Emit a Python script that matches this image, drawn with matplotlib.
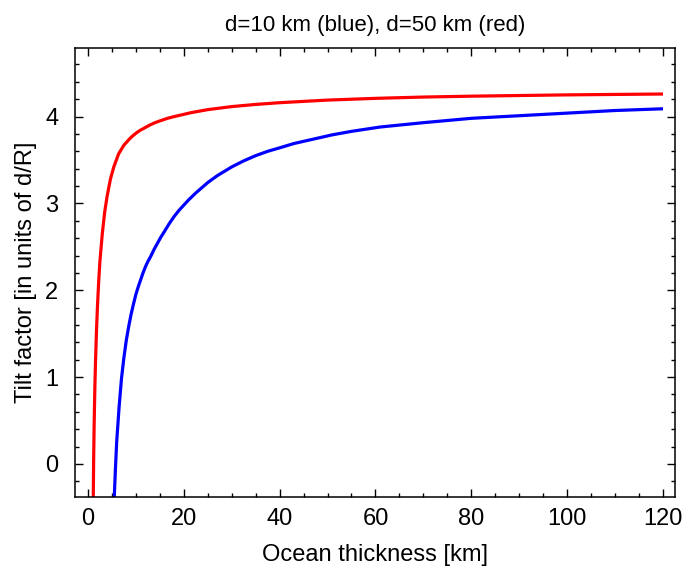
import matplotlib
matplotlib.use('Agg')
import matplotlib.pyplot as plt
from matplotlib.ticker import MultipleLocator

plt.rcParams['font.family'] = ['Liberation Sans', 'DejaVu Sans']

# Tilt factor vs ocean thickness, d = 10 km
x_blue = [5.5, 5.75, 6.0, 6.5, 7.0, 7.5, 8.0, 8.5, 9.0, 9.5, 10.0, 10.5, 11.0,
          11.5, 12.0, 12.5, 13.1, 13.8, 14.5, 15.2, 16.0, 17.0, 18.0, 19.0, 20.0,
          21.0, 22.5, 25, 27, 30, 32.5, 35, 37.5, 40, 43, 47, 51, 55, 61,
          70, 80, 90, 100, 110, 120]
y_blue = [-0.38, -0.05, 0.25, 0.65, 0.98, 1.22, 1.42, 1.58, 1.72, 1.84, 1.95,
          2.04, 2.12, 2.20, 2.27, 2.33, 2.39, 2.47, 2.54, 2.61, 2.68, 2.77, 2.85,
          2.92, 2.98, 3.04, 3.12, 3.24, 3.32, 3.42, 3.49, 3.55, 3.60, 3.64,
          3.69, 3.74, 3.79, 3.83, 3.88, 3.93, 3.98, 4.01, 4.04, 4.07, 4.09]

# d = 50 km
x_red = [1.12, 1.2, 1.3, 1.45, 1.6, 1.8, 2.0, 2.25, 2.5, 3.0, 3.5, 4.0, 4.7, 5.4,
         6.4, 7.5, 8.8, 9.5, 10.3, 11, 12, 13, 14, 15, 16.6, 18, 21.5, 25, 30,
         35, 40, 50, 60, 70, 80, 100, 120]
y_red = [-0.38, 0.05, 0.45, 0.88, 1.2, 1.55, 1.82, 2.1, 2.33, 2.65, 2.9, 3.08,
         3.28, 3.42, 3.57, 3.67, 3.75, 3.785, 3.82, 3.845, 3.875, 3.905, 3.93,
         3.95, 3.98, 4.0, 4.045, 4.08, 4.115, 4.14, 4.16, 4.19, 4.21, 4.225,
         4.235, 4.25, 4.26]

fig = plt.figure(figsize=(6.84, 5.76), dpi=100)
ax = fig.add_axes([0.1096, 0.1372, 0.8772, 0.7795])

ax.plot(x_blue, y_blue, color='#0000ff', lw=2.3, solid_capstyle='butt')
ax.plot(x_red, y_red, color='#ff0000', lw=2.3, solid_capstyle='butt')

ax.set_xlim(-2.7, 122.5)
ax.set_ylim(-0.38, 4.79)

ax.xaxis.set_major_locator(MultipleLocator(20))
ax.xaxis.set_minor_locator(MultipleLocator(5))
ax.yaxis.set_major_locator(MultipleLocator(1))
ax.yaxis.set_minor_locator(MultipleLocator(0.2))
ax.tick_params(which='both', direction='in', top=True, right=True, width=1.0,
               labelsize=17, colors='black')
ax.tick_params(which='major', length=5.5)
ax.tick_params(which='minor', length=3)
ax.tick_params(axis='x', which='major', pad=8)
ax.tick_params(axis='y', which='major', pad=12)
for s in ax.spines.values():
    s.set_linewidth(1.1)

ax.set_xlabel('Ocean thickness [km]', fontsize=17, labelpad=10)
ax.set_ylabel('Tilt factor [in units of d/R]', fontsize=17, labelpad=6)
ax.set_title('d=10 km (blue), d=50 km (red)', fontsize=16, pad=12)

fig.savefig('out.png', dpi=100)
